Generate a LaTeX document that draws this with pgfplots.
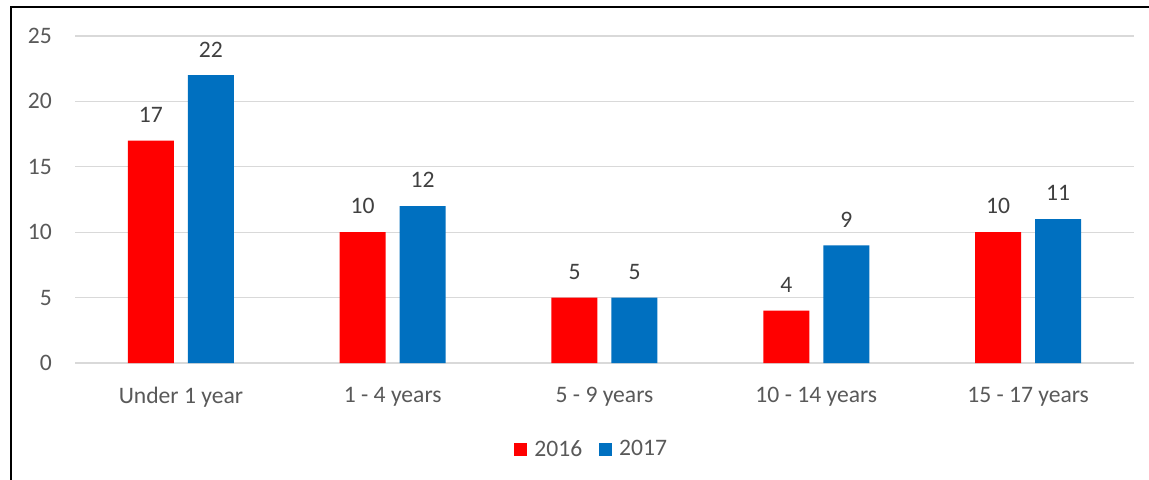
\documentclass[border=0pt]{standalone}
\usepackage{pgfplots}
\pgfplotsset{compat=1.18}
\usepackage{fontspec}
\setmainfont{Carlito}
\definecolor{txt}{HTML}{595959}
\definecolor{gridc}{HTML}{D9D9D9}
\definecolor{red16}{HTML}{FF0000}
\definecolor{blue17}{HTML}{0070C0}
\newcommand\f{\fontsize{23.6bp}{28bp}\selectfont}
\begin{document}
\begin{tikzpicture}
\useasboundingbox (0,0) rectangle (1149bp,480bp);
\fill[white] (0,0) rectangle (1149bp,480bp);
\begin{axis}[
  at={(75bp,117bp)}, anchor=south west,
  scale only axis, width=1059bp, height=327bp,
  xmin=-0.5, xmax=4.5, ymin=0, ymax=25,
  enlargelimits=false,
  ybar=14bp, bar width=46bp,
  axis line style={draw=none},
  tick style={draw=none},
  major tick length=0pt,
  ymajorgrids, grid style={gridc, line width=1.3bp},
  ytick={0,5,10,15,20,25},
  xtick={0,1,2,3,4},
  xticklabels={Under 1 year, 1 - 4 years, 5 - 9 years, 10 - 14 years, 15 - 17 years},
  /pgf/number format/assume math mode=true,
  yticklabel style={font=\f, text=txt, inner sep=0pt, anchor=east, xshift=-23bp},
  xticklabel style={font=\f, text=txt, inner sep=0pt, anchor=north, yshift=-24bp},
  nodes near coords,
  every node near coord/.append style={font=\f, text=black!75, inner sep=0pt, anchor=south, yshift=18bp},
  legend columns=2,
  legend style={at={(0.487,-0.263)}, anchor=center, draw=none, fill=none, inner sep=0pt,
    nodes={inner sep=0pt, font=\f, text=txt},
    /tikz/every odd column/.append style={column sep=7bp},
    /tikz/every even column/.append style={column sep=17bp}},
  legend image code/.code={\fill[#1] (0bp,-6.5bp) rectangle (13bp,6.5bp);},
  clip=false,
]
\addplot[fill=red16, draw=none] coordinates {(0,17) (1,10) (2,5) (3,4) (4,10)};
\addplot[fill=blue17, draw=none] coordinates {(0,22) (1,12) (2,5) (3,9) (4,11)};
\legend{2016, 2017}
\end{axis}
\draw[line width=2.2bp, black] (11bp,-5bp) -- (11bp,473bp) -- (1160bp,473bp);
\end{tikzpicture}
\end{document}
